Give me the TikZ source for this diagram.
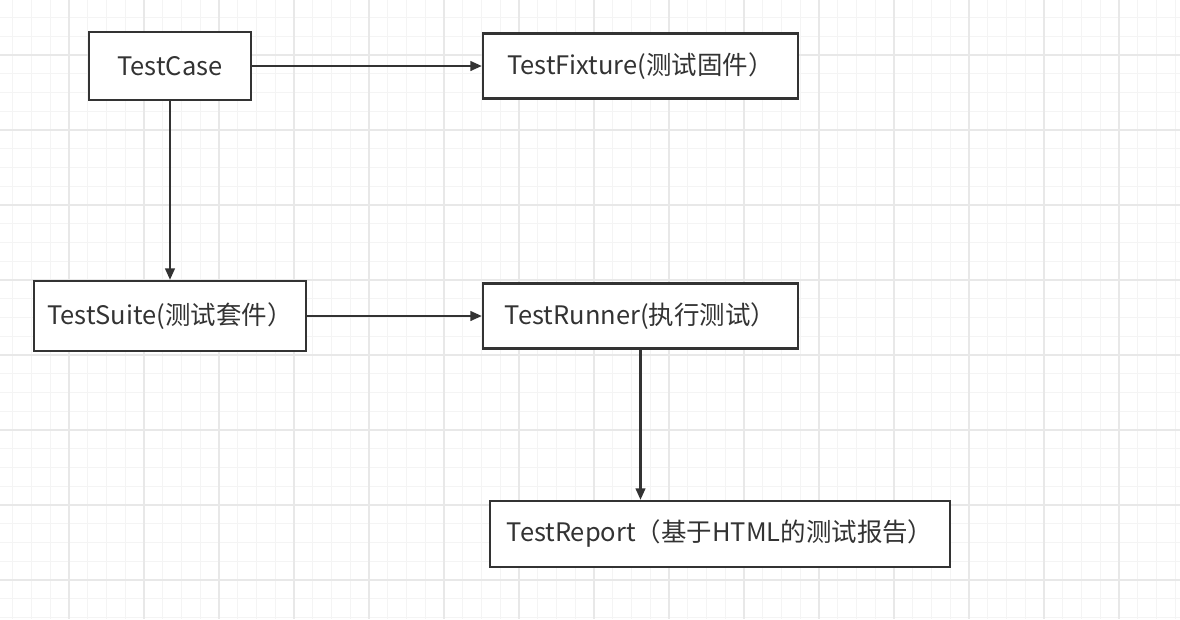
\documentclass[tikz,border=0pt]{standalone}
\usepackage{fontspec}
\newfontfamily\cjkfont{Noto Sans CJK SC}
\usepackage{tikz}
\usetikzlibrary{arrows.meta}
\usetikzlibrary{positioning}
\definecolor{boxgray}{HTML}{333333}
\definecolor{minorgrid}{HTML}{F4F4F4}
\definecolor{majorgrid}{HTML}{E8E8E8}

\begin{document}
\begin{tikzpicture}[x=0.02cm,y=-0.02cm,>={Triangle[length=6.5pt,width=5.5pt]},
  box/.style={rectangle,draw=boxgray,line width=1.4pt,fill=white,text=boxgray,
    inner sep=0pt,font=\cjkfont\fontsize{14.5}{16}\selectfont},
  link/.style={->,draw=boxgray,line width=1.2pt},
  minor line/.style={draw=minorgrid,line width=0.5pt},
  major line/.style={draw=majorgrid,line width=0.6pt}]

  \fill[white] (0,0) rectangle (1180,619);
  \useasboundingbox (0,0) rectangle (1180,619);

  \foreach \i in {0,...,62}
    \draw[minor line] ({12.75+18.75*\i},0) -- ({12.75+18.75*\i},619);
  \foreach \i in {0,...,32}
    \draw[minor line] (0,{17.5+18.75*\i}) -- (1180,{17.5+18.75*\i});
  \foreach \i in {0,...,14}
    \draw[major line] ({69+75*\i},0) -- ({69+75*\i},619);
  \foreach \i in {0,...,7}
    \draw[major line] (0,{55+75*\i}) -- (1180,{55+75*\i});

  \node[box,minimum width=3.24cm,minimum height=1.36cm] (case) at (170,66) {TestCase};
  \node[box,minimum width=6.3cm,minimum height=1.3cm] (fixture) at (640.5,66) {TestFixture(测试固件）};
  \node[box,minimum width=5.44cm,minimum height=1.4cm] (suite) at (170,316) {TestSuite(测试套件）};
  \node[box,minimum width=6.3cm,minimum height=1.3cm] (runner) at (640.5,316) {TestRunner(执行测试）};
  \node[box,minimum width=9.2cm,minimum height=1.32cm] (report) at (720,534) {TestReport（基于HTML的测试报告）};

  \draw[link] (case) -- (fixture);
  \draw[link] (case) -- (suite);
  \draw[link] (suite) -- (runner);
  \draw[link] (runner.south) -- (runner.south |- report.north);

\end{tikzpicture}
\end{document}
